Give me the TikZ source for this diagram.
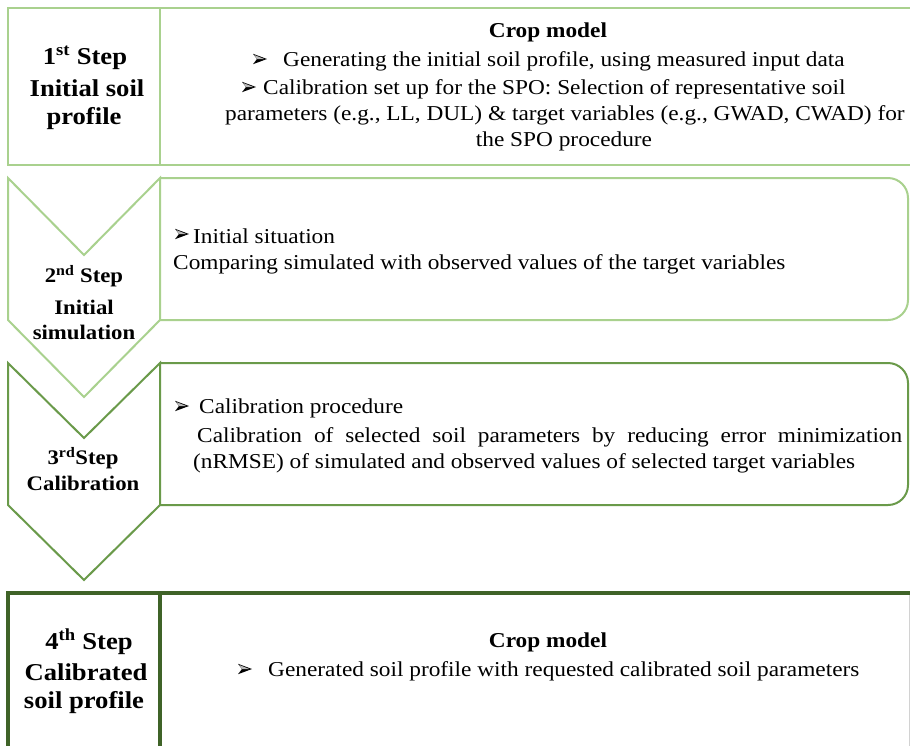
\documentclass[tikz,border=0pt]{standalone}
\usepackage{fontspec}
\setmainfont{Liberation Serif}[FakeStretch=1.1]
\definecolor{lgreen}{HTML}{A9D18E}
\definecolor{mgreen}{HTML}{6A9A4A}
\definecolor{dgreen}{HTML}{3F6328}
\tikzset{
  dart/.pic={\fill[black] (0,-5.2) -- (14,0) -- (0,5.2) -- (4,0) -- cycle;
             \fill[gray!55] (1.3,-4) -- (11.3,0) -- (4,0) -- cycle;}
}
\begin{document}
\begin{tikzpicture}[x=1pt,y=-1pt,
  body/.style={font=\fontsize{21.2}{25}\selectfont, inner sep=0pt, anchor=west},
  bodyc/.style={font=\fontsize{21.2}{25}\selectfont, inner sep=0pt},
  bodyb/.style={font=\fontsize{21.2}{25}\selectfont\bfseries, inner sep=0pt},
  lab/.style={font=\fontsize{24.2}{28}\selectfont\bfseries, inner sep=0pt},
  labs/.style={font=\fontsize{20.7}{24}\selectfont\bfseries, inner sep=0pt},
  lbox/.style={draw=lgreen, line width=2pt},
  mbox/.style={draw=mgreen, line width=2pt},
  dbox/.style={draw=dgreen, line width=3.2pt}]
\useasboundingbox (0,0) rectangle (910,745);
\clip (0,0) rectangle (910,745);
\fill[white] (0,0) rectangle (910,745);
% Step 1
\draw[lbox] (930,8) -- (8,8) -- (8,165) -- (930,165);
\draw[lbox] (160,8) -- (160,165);
% Step 2
\draw[lbox, line join=miter] (8,178) -- (84,255) -- (160,178) -- (160,320) -- (84,397) -- (8,320) -- cycle;
\draw[lbox] (160,178) -- (888,178) arc[start angle=-90,end angle=0,radius=20] -- (908,300) arc[start angle=0,end angle=90,radius=20] -- (160,320);
% Step 3
\draw[mbox, line join=miter] (8,363) -- (84,438) -- (160,363) -- (160,505) -- (84,580) -- (8,505) -- cycle;
\draw[mbox] (160,363) -- (888,363) arc[start angle=-90,end angle=0,radius=20] -- (908,485) arc[start angle=0,end angle=90,radius=20] -- (160,505);
% Step 4
\draw[dbox] (8,760) -- (8,593) -- (930,593);
\draw[dbox] (160,593) -- (160,760);
\draw[gray!35, line width=0.8pt] (909,595) -- (909,760);

% Labels
\node[lab] (l1a) at (85,58) {1\textsuperscript{st} Step};
\node[lab] (l1b) at (87,88) {Initial soil};
\node[lab] (l1c) at (84,119) {profile};
\node[labs] (l2a) at (84,276) {2\textsuperscript{nd} Step};
\node[labs] (l2b) at (84,307) {Initial};
\node[labs] (l2c) at (84,332) {simulation};
\node[labs] (l3a) at (83,458) {3\textsuperscript{rd}Step};
\node[labs] (l3b) at (83,483) {Calibration};
\node[lab] (l4a) at (89,642) {4\textsuperscript{th} Step};
\node[lab] (l4b) at (86,672) {Calibrated};
\node[lab] (l4c) at (84,703) {soil profile};

% Box 1 text
\node[bodyb] (t1a) at (548,32) {Crop model};
\node[body] (t1b) at (283,61) {Generating the initial soil profile, using measured input data};
\pic at ([xshift=-30pt,yshift=2pt]t1b.west) {dart};
\node[body] (t1c) at (263,89) {Calibration set up for the SPO: Selection of representative soil};
\pic at ([xshift=-21pt,yshift=2pt]t1c.west) {dart};
\node[body] (t1d) at (225,115) {parameters (e.g., LL, DUL) \& target variables (e.g., GWAD, CWAD) for};
\node[bodyc] (t1e) at (564,141) {the SPO procedure};
% Box 2 text
\node[body] (t2a) at (193,236) {Initial situation};
\pic at ([xshift=-18pt,yshift=2pt]t2a.west) {dart};
\node[body] (t2b) at (173,264) {Comparing simulated with observed values of the target variables};
% Box 3 text
\node[body] (t3a) at (199,408) {Calibration procedure};
\pic at ([xshift=-24pt,yshift=2pt]t3a.west) {dart};
\node[body] (t3b) at (197,437) {\makebox[705pt][s]{Calibration of selected soil parameters by reducing error minimization}};
\node[body] (t3c) at (193,463) {(nRMSE) of simulated and observed values of selected target variables};
% Box 4 text
\node[bodyb] (t4a) at (548,642) {Crop model};
\node[body] (t4b) at (268,671) {Generated soil profile with requested calibrated soil parameters};
\pic at ([xshift=-30pt,yshift=2pt]t4b.west) {dart};
\end{tikzpicture}
\end{document}
